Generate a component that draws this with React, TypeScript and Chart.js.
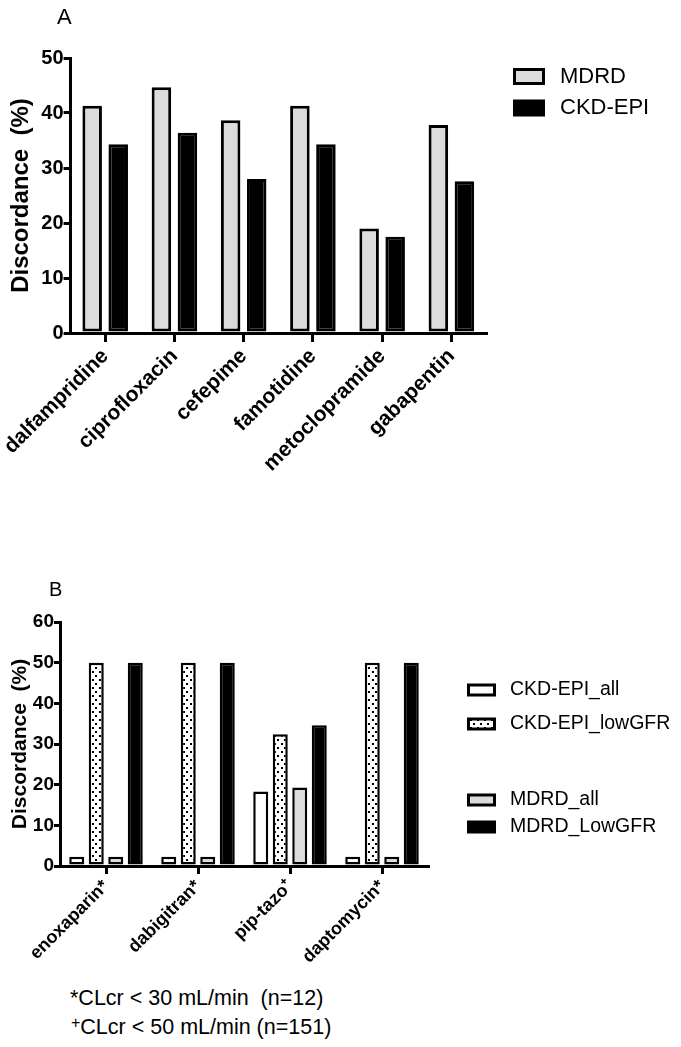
import React, { useEffect, useRef } from "react";
import { Chart, registerables } from "chart.js";

Chart.register(...registerables);

const FONT = "'Liberation Sans', Arial, Helvetica, sans-serif";

// ---------- Panel A data ----------
const drugsA = ["dalfampridine", "ciprofloxacin", "cefepime", "famotidine", "metoclopramide", "gabapentin"];
const mdrdA = [41.3, 44.7, 38.7, 41.3, 19.0, 37.8];
const ckdEpiA = [34.3, 36.4, 28.0, 34.3, 17.5, 27.6];
const ticksA = [0, 10, 20, 30, 40, 50];

// ---------- Panel B data ----------
const drugsB = ["enoxaparin*", "dabigitran*", "pip-tazo⁺", "daptomycin*"];
const ckdEpiAllB = [2.3, 2.3, 18.3, 2.3];
const ckdEpiLowB = [50, 50, 32.4, 50];
const mdrdAllB = [2.3, 2.3, 19.3, 2.3];
const mdrdLowB = [50, 50, 34.6, 50];
const ticksB = [0, 10, 20, 30, 40, 50, 60];

const GRAY = "#dcdcdc";
const BLACK = "#000000";

function makeDots(): CanvasPattern | string {
  const c = document.createElement("canvas");
  c.width = 7;
  c.height = 8;
  const g = c.getContext("2d");
  if (!g) return "#fff";
  g.fillStyle = "#ffffff";
  g.fillRect(0, 0, 7, 8);
  g.fillStyle = "#000000";
  g.fillRect(1, 1, 2, 2);
  g.fillRect(4, 5, 2, 2);
  return g.createPattern(c, "repeat") || "#fff";
}

type LegendSpec = {
  ys: number[];
  boxX: number;
  boxW: number;
  boxH: number;
  bw: number;
  textX: number;
  fontSize: number;
  panel: string;
  panelX: number;
  panelY: number;
  panelSize: number;
};

function legendPlugin(spec: LegendSpec) {
  return {
    id: "customLegend",
    afterDraw(chart: any) {
      const ctx = chart.ctx as CanvasRenderingContext2D;
      ctx.save();
      chart.data.datasets.forEach((ds: any, i: number) => {
        const y = spec.ys[i];
        ctx.fillStyle = BLACK;
        ctx.fillRect(spec.boxX, y - spec.boxH / 2, spec.boxW, spec.boxH);
        ctx.fillStyle = ds.backgroundColor;
        ctx.fillRect(
          spec.boxX + spec.bw,
          y - spec.boxH / 2 + spec.bw,
          spec.boxW - 2 * spec.bw,
          spec.boxH - 2 * spec.bw
        );
        ctx.fillStyle = BLACK;
        ctx.font = `${spec.fontSize}px ${FONT}`;
        ctx.textAlign = "left";
        ctx.textBaseline = "middle";
        ctx.fillText(ds.label, spec.textX, y);
      });
      ctx.font = `${spec.panelSize}px ${FONT}`;
      ctx.textAlign = "left";
      ctx.textBaseline = "alphabetic";
      ctx.fillStyle = BLACK;
      ctx.fillText(spec.panel, spec.panelX, spec.panelY);
      ctx.restore();
    },
  };
}

function axisCommon(tickLen: number) {
  return {
    grid: {
      display: true,
      drawOnChartArea: false,
      drawTicks: true,
      tickLength: tickLen,
      lineWidth: 3,
      color: BLACK,
      offset: false,
    },
    border: { display: true, width: 3, color: BLACK },
  };
}

export default function App() {
  const refA = useRef<HTMLCanvasElement | null>(null);
  const refB = useRef<HTMLCanvasElement | null>(null);

  useEffect(() => {
    if (!refA.current || !refB.current) return;
    const dots = makeDots();

    const chartA = new Chart(refA.current, {
      type: "bar",
      data: {
        labels: drugsA,
        datasets: [
          {
            label: "MDRD",
            data: mdrdA,
            backgroundColor: GRAY,
            borderColor: BLACK,
            borderWidth: 3,
            borderSkipped: false,
            categoryPercentage: 0.752,
            barPercentage: 0.75,
          },
          {
            label: "CKD-EPI",
            data: ckdEpiA,
            backgroundColor: BLACK,
            borderColor: BLACK,
            borderWidth: 3,
            borderSkipped: false,
            categoryPercentage: 0.752,
            barPercentage: 0.75,
          },
        ],
      },
      options: {
        animation: false,
        responsive: false,
        devicePixelRatio: 1,
        layout: { padding: { top: 58, right: 195, left: 0, bottom: 0 } },
        plugins: { legend: { display: false }, tooltip: { enabled: false } },
        scales: {
          x: {
            type: "category",
            offset: true,
            ...axisCommon(9),
            ticks: {
              color: BLACK,
              font: { family: FONT, size: 21, weight: "bold" },
              maxRotation: 45,
              minRotation: 45,
              autoSkip: false,
              padding: 2,
            },
            afterFit: (s: any) => {
              s.height = 147;
            },
          },
          y: {
            min: 0,
            max: 50,
            ...axisCommon(7),
            afterBuildTicks: (s: any) => {
              s.ticks = ticksA.map((v) => ({ value: v }));
            },
            ticks: {
              color: BLACK,
              font: { family: FONT, size: 20, weight: "bold" },
              padding: 0,
            },
            title: {
              display: true,
              text: "Discordance  (%)",
              color: BLACK,
              font: { family: FONT, size: 24, weight: "bold" },
              padding: { top: 6, bottom: 0 },
            },
            afterFit: (s: any) => {
              s.width = 70;
            },
          },
        },
      } as any,
      plugins: [
        legendPlugin({
          ys: [76.5, 108],
          boxX: 513,
          boxW: 32,
          boxH: 17,
          bw: 3,
          textX: 560,
          fontSize: 22,
          panel: "A",
          panelX: 57,
          panelY: 24,
          panelSize: 22,
        }),
      ],
    });

    const chartB = new Chart(refB.current, {
      type: "bar",
      data: {
        labels: drugsB,
        datasets: [
          {
            label: "CKD-EPI_all",
            data: ckdEpiAllB,
            backgroundColor: "#ffffff",
            borderColor: BLACK,
            borderWidth: 2.5,
            borderSkipped: false,
            categoryPercentage: 0.848,
            barPercentage: 0.77,
          },
          {
            label: "CKD-EPI_lowGFR",
            data: ckdEpiLowB,
            backgroundColor: dots as any,
            borderColor: BLACK,
            borderWidth: 2.5,
            borderSkipped: false,
            categoryPercentage: 0.848,
            barPercentage: 0.77,
          },
          {
            label: "MDRD_all",
            data: mdrdAllB,
            backgroundColor: GRAY,
            borderColor: BLACK,
            borderWidth: 2.5,
            borderSkipped: false,
            categoryPercentage: 0.848,
            barPercentage: 0.77,
          },
          {
            label: "MDRD_LowGFR",
            data: mdrdLowB,
            backgroundColor: BLACK,
            borderColor: BLACK,
            borderWidth: 2.5,
            borderSkipped: false,
            categoryPercentage: 0.848,
            barPercentage: 0.77,
          },
        ],
      },
      options: {
        animation: false,
        responsive: false,
        devicePixelRatio: 1,
        layout: { padding: { top: 152, right: 253, left: 0, bottom: 0 } },
        plugins: { legend: { display: false }, tooltip: { enabled: false } },
        scales: {
          x: {
            type: "category",
            offset: true,
            ...axisCommon(8),
            ticks: {
              color: BLACK,
              font: { family: FONT, size: 18, weight: "bold" },
              maxRotation: 45,
              minRotation: 45,
              autoSkip: false,
              padding: 2,
            },
            afterFit: (s: any) => {
              s.height = 104;
            },
          },
          y: {
            min: 0,
            max: 60,
            ...axisCommon(6),
            afterBuildTicks: (s: any) => {
              s.ticks = ticksB.map((v) => ({ value: v }));
            },
            ticks: {
              color: BLACK,
              font: { family: FONT, size: 19, weight: "bold" },
              padding: 0,
            },
            title: {
              display: true,
              text: "Discordance  (%)",
              color: BLACK,
              font: { family: FONT, size: 21, weight: "bold" },
              padding: { top: 8, bottom: 0 },
            },
            afterFit: (s: any) => {
              s.width = 60;
            },
          },
        },
      } as any,
      plugins: [
        legendPlugin({
          ys: [220, 254, 330, 357],
          boxX: 467,
          boxW: 29,
          boxH: 13,
          bw: 3,
          textX: 510,
          fontSize: 19.5,
          panel: "B",
          panelX: 49,
          panelY: 126,
          panelSize: 20,
        }),
      ],
    });

    return () => {
      chartA.destroy();
      chartB.destroy();
    };
  }, []);

  return (
    <div
      style={{
        position: "absolute",
        left: 0,
        top: 0,
        width: 681,
        height: 1047,
        background: "#fff",
        overflow: "hidden",
      }}
    >
      <canvas
        ref={refA}
        width={681}
        height={480}
        style={{ position: "absolute", left: 0, top: 0, display: "block" }}
      />
      <canvas
        ref={refB}
        width={681}
        height={500}
        style={{ position: "absolute", left: 0, top: 470, display: "block" }}
      />
      <div
        style={{
          position: "absolute",
          left: 70,
          top: 986,
          fontFamily: FONT,
          fontSize: 21.5,
          lineHeight: "24px",
          whiteSpace: "pre",
          color: "#000",
        }}
      >
        {"*CLcr < 30 mL/min  (n=12)"}
      </div>
      <div
        style={{
          position: "absolute",
          left: 71,
          top: 1015,
          fontFamily: FONT,
          fontSize: 21.5,
          lineHeight: "24px",
          whiteSpace: "pre",
          color: "#000",
        }}
      >
        <sup style={{ fontSize: 16, lineHeight: 0, verticalAlign: "6px", color: "#000" }}>+</sup>
        {"CLcr < 50 mL/min (n=151)"}
      </div>
    </div>
  );
}
